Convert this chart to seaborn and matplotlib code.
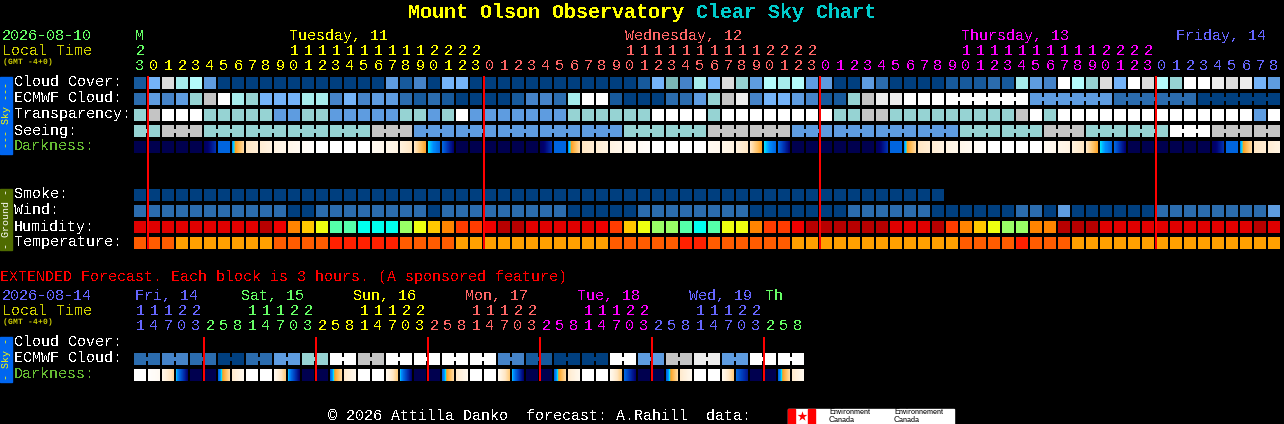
import numpy as np
import seaborn as sns
import matplotlib.pyplot as plt
from matplotlib.colors import LinearSegmentedColormap, ListedColormap
from matplotlib.patches import Rectangle

WIDTH = 1284
HEIGHT = 424
LEFT = 134
PITCH = 14
BLOCK = 12
FONT = "Liberation Mono"

# level colours, one table per kind of row
SKY_COLORS = [
    "#003F7F", "#175A9C", "#2B6CAE", "#4583C8", "#5E9CE0", "#74B3F8", "#7AB8B8",
    "#96D3D3", "#A6ECEC", "#B4FBFB", "#C4C4C4", "#DCDCDC", "#ECECEC", "#FFFFFF",
]
HUMIDITY_COLORS = [
    "#B80000", "#E00000", "#F00000", "#FF3C00", "#FF8400",
    "#FFC800", "#EEFF10", "#99FF66", "#55FFAA", "#00FFEE",
]
TEMPERATURE_COLORS = ["#FF2000", "#FF5C00", "#FFA000"]
DARK_STOPS = [
    (0.0, "#00004F"), (0.1, "#000070"), (0.2, "#0030B0"), (0.3, "#0066E0"),
    (0.36, "#0090FF"), (0.4, "#00E0FF"), (0.44, "#FFA020"), (0.55, "#FFC060"),
    (0.66, "#FFD9A0"), (0.72, "#FFE6C4"), (0.85, "#FFF4E4"), (1.0, "#FFFFFF"),
]

GREEN = "#66FF66"
YELLOW = "#FFFF00"
SALMON = "#FF6666"
MAGENTA = "#FF00FF"
BLUE = "#6666FF"
OLIVE_TEXT = "#CCCC00"

cloud_cover = [
    1, 5, 11, 8, 9, 4, 0, 0, 0, 0,
    0, 0, 0, 0, 0, 0, 0, 0, 4, 1,
    3, 0, 5, 5, 0, 0, 0, 0, 0, 0,
    0, 0, 0, 0, 0, 0, 1, 5, 6, 3,
    8, 5, 11, 7, 4, 9, 8, 9, 4, 4,
    0, 0, 4, 2, 0, 0, 0, 0, 1, 1,
    1, 2, 1, 8, 4, 3, 13, 9, 7, 11,
    5, 13, 11, 9, 7, 13, 13, 12, 11, 12,
    5, 4,
]
ecmwf_cloud = [
    2, 4, 3, 4, 7, 10, 13, 8, 7, 5,
    5, 5, 8, 8, 3, 5, 3, 4, 4, 2,
    1, 2, 1, 0, 0, 0, 0, 1, 3, 3,
    2, 8, 13, 13, 1, 0, 0, 0, 2, 2,
    4, 7, 10, 12, 3, 5, 5, 4, 3, 1,
    1, 7, 10, 12, 12, 13, 13, 13,
    13, 4, 2, 0,
]
ecmwf_spans = [1] * 58 + [6] * 4
transparency = [
    7, 10, 13, 13, 13, 7, 7, 7, 7, 7,
    4, 4, 7, 7, 4, 4, 4, 4, 4, 7,
    7, 4, 7, 13, 4, 4, 4, 4, 4, 4,
    4, 7, 7, 7, 7, 7, 7, 13, 13, 13,
    13, 7, 13, 13, 13, 13, 13, 13, 13, 13,
    7, 7, 10, 10, 7, 7, 7, 7, 7, 7,
    7, 7, 7, 10, 13, 7, 13, 13, 13, 13,
    13, 13, 13, 13, 13, 13, 13, 13, 13, 13,
    4, 13,
]
seeing = [7, 10, 7, 7, 7, 7, 10, 4, 4, 4, 4, 4, 7, 7, 10, 10, 4, 4, 4, 4, 7, 7, 10, 7, 7, 13, 10, 10]
seeing_spans = [2] + [3] * 26 + [2]
darkness_start = [
    0, 0, 0, 0, 0, .05, .3, .36, .72, .78,
    .84, .88, .94, 1, 1, 1, 1, .92, .88, .82,
    .72, .40, .3, 0, 0, 0, 0, 0, 0, .05,
    .3, .36, .72, .78, .84, .88, .94, 1, 1, 1,
    1, .92, .88, .82, .72, .40, .3, 0, 0, 0,
    0, 0, 0, .05, .3, .36, .72, .78, .84, .88,
    .94, 1, 1, 1, 1, .92, .88, .82, .72, .40,
    .3, 0, 0, 0, 0, 0, 0, .05, .3, .36,
    .72, .78,
]
darkness_end = [
    0, 0, 0, 0, 0, .2, .3, .66, .78, .84,
    .88, .92, .97, 1, 1, 1, 1, .9, .84, .72,
    .46, .3, .1, 0, 0, 0, 0, 0, 0, .2,
    .3, .66, .78, .84, .88, .92, .97, 1, 1, 1,
    1, .9, .84, .72, .46, .3, .1, 0, 0, 0,
    0, 0, 0, .2, .3, .66, .78, .84, .88, .92,
    .97, 1, 1, 1, 1, .9, .84, .72, .46, .3,
    .1, 0, 0, 0, 0, 0, 0, .2, .3, .66,
    .78, .84,
]
smoke = [0] * 58
wind = [
    2, 2, 2, 2, 2, 2, 2, 2, 2, 2,
    2, 0, 0, 2, 2, 2, 2, 2, 2, 2,
    2, 0, 2, 2, 2, 2, 2, 2, 2, 2,
    2, 0, 0, 0, 0, 0, 2, 2, 2, 2,
    2, 2, 2, 2, 0, 0, 0, 0, 0, 0,
    0, 2, 2, 2, 2, 2, 2, 0, 0, 0,
    0, 0, 0, 2, 2, 0, 4, 0, 0, 0,
    0, 0, 0, 2, 2, 2, 2, 2, 2, 2,
    2, 4,
]
humidity = [
    1, 1, 1, 1, 1, 1, 1, 1, 1, 0,
    2, 4, 5, 6, 8, 8, 9, 9, 9, 7,
    6, 5, 4, 3, 3, 2, 0, 0, 1, 1,
    1, 1, 1, 2, 3, 5, 6, 7, 7, 8,
    9, 8, 6, 6, 4, 3, 3, 2, 0, 0,
    0, 0, 0, 0, 1, 1, 1, 0, 3, 4,
    5, 6, 7, 7, 4, 4, 0, 0, 0, 1,
    1, 1, 1, 1, 1, 1, 1, 1, 1, 1,
    0, 1,
]
temperature = [
    1, 1, 1, 2, 2, 2, 2, 2, 2, 2,
    1, 1, 1, 1, 0, 0, 0, 0, 0, 1,
    1, 1, 1, 2, 2, 2, 2, 2, 2, 2,
    2, 2, 2, 2, 1, 1, 1, 1, 1, 0,
    0, 1, 1, 1, 1, 1, 1, 2, 2, 2,
    2, 2, 2, 2, 2, 2, 2, 2, 2, 1,
    1, 1, 1, 0, 1, 1, 1, 2, 2, 2,
    2, 2, 2, 2, 2, 2, 2, 2, 2, 2,
    2, 2,
]

ext_ecmwf = [2, 3, 2, 0, 2, 4, 7, 13, 10, 13, 13, 13, 13, 3, 1, 0, 0, 13, 4, 10, 12, 4, 13, 13]
ext_spans = [2] * 24
ext_dark_start = [
    1, .98, .88, .38, 0, 0, .3, .76, 1, 1,
    .92, .38, 0, 0, .3, .76, 1, 1, .9, .38,
    0, 0, .3, .76, 1, 1, .9, .38, 0, 0,
    .3, .76, 1, 1, .9, .3, 0, 0, .3, .76,
    1, 1, .9, .3, 0, 0, .3, .76,
]
ext_dark_end = [
    1, .93, .66, .1, 0, 0, .66, .9, 1, 1,
    .6, .1, 0, 0, .66, .9, 1, 1, .6, .1,
    0, 0, .66, .9, 1, 1, .6, .1, 0, 0,
    .66, .9, 1, 1, .6, .1, 0, 0, .66, .9,
    1, 1, .6, .15, 0, 0, .66, .9,
]

hours = [23] + list(range(24)) * 3 + list(range(9))
hour_colors = [GREEN] + [YELLOW] * 24 + [SALMON] * 24 + [MAGENTA] * 24 + [BLUE] * 9
ext_hours = [11, 14, 17, 20, 23] + [2, 5, 8, 11, 14, 17, 20, 23] * 5 + [2, 5, 8]
ext_colors = [BLUE] * 5 + [GREEN] * 8 + [YELLOW] * 8 + [SALMON] * 8 + [MAGENTA] * 8 + [BLUE] * 8 + [GREEN] * 3

day_names = ["M", "Tuesday, 11", "Wednesday, 12", "Thursday, 13", "Friday, 14"]
day_x = [135, 289, 625, 961, 1176]
day_colors = [GREEN, YELLOW, SALMON, MAGENTA, BLUE]
ext_day_names = ["Fri, 14", "Sat, 15", "Sun, 16", "Mon, 17", "Tue, 18", "Wed, 19", "Th"]
ext_day_x = [135, 241, 353, 465, 577, 689, 765]
ext_day_colors = [BLUE, GREEN, YELLOW, SALMON, MAGENTA, BLUE, GREEN]

row_names = ["Cloud Cover:", "ECMWF Cloud:", "Transparency:", "Seeing:", "Darkness:"]
ground_names = ["Smoke:", "Wind:", "Humidity:", "Temperature:"]
ext_names = ["Cloud Cover:", "ECMWF Cloud:", "Darkness:"]

HUMIDITY_BASE = len(SKY_COLORS)
TEMPERATURE_BASE = HUMIDITY_BASE + len(HUMIDITY_COLORS)
DARK_BASE = TEMPERATURE_BASE + len(TEMPERATURE_COLORS)
dark_map = LinearSegmentedColormap.from_list("dark", DARK_STOPS, N=256)
all_colors = SKY_COLORS + HUMIDITY_COLORS + TEMPERATURE_COLORS + [dark_map(i) for i in range(256)]

canvas = np.full((HEIGHT, WIDTH), np.nan)


def draw_row(y, values, base=0, spans=None):
    spans = spans or [1] * len(values)
    col = 0
    for value, span in zip(values, spans):
        for i in range(span):
            x = LEFT + col * PITCH
            canvas[y : y + BLOCK, x : x + BLOCK] = value + base
            # blocks of one forecast step are joined by a narrow neck
            if i < span - 1:
                canvas[y + 4 : y + 8, x + BLOCK : x + PITCH] = value + base
            col += 1


def draw_dark_row(y, starts, ends):
    for col, (start, end) in enumerate(zip(starts, ends)):
        x = LEFT + col * PITCH
        shade = np.round(np.linspace(start, end, BLOCK) * 255)
        canvas[y : y + BLOCK, x : x + BLOCK] = DARK_BASE + shade


draw_row(77, cloud_cover)
draw_row(93, ecmwf_cloud, spans=ecmwf_spans)
draw_row(109, transparency)
draw_row(125, seeing, spans=seeing_spans)
draw_dark_row(141, darkness_start, darkness_end)
draw_row(189, smoke)
draw_row(205, wind)
draw_row(221, humidity, base=HUMIDITY_BASE)
draw_row(237, temperature, base=TEMPERATURE_BASE)
draw_row(353, ext_ecmwf, spans=ext_spans)
draw_dark_row(369, ext_dark_start, ext_dark_end)

sns.set_theme(style="white")
plt.rcParams["font.family"] = [FONT, "DejaVu Sans"]
plt.rcParams["text.antialiased"] = False
plt.rcParams["text.hinting"] = "native"
plt.rcParams["text.hinting_factor"] = 1

fig = plt.figure(figsize=(WIDTH / 100, HEIGHT / 100), dpi=100, facecolor="black")
ax = fig.add_axes([0, 0, 1, 1])
sns.heatmap(
    canvas,
    ax=ax,
    cmap=ListedColormap(all_colors),
    vmin=-0.5,
    vmax=len(all_colors) - 0.5,
    cbar=False,
    xticklabels=False,
    yticklabels=False,
)
ax.set_facecolor("black")


def label(x, y, s, color="white", size=10.8, **kw):
    ax.text(x, y, s, color=color, fontsize=size, va="center", **kw)


def col_center(col):
    return LEFT + col * PITCH + BLOCK / 2


# midnight markers
ax.vlines([LEFT + c * PITCH for c in (1, 25, 49, 73)], 76, 249, color="#FF0000", lw=1.44, zorder=5)
ax.vlines([LEFT + c * PITCH for c in (5, 13, 21, 29, 37, 45)], 337, 381, color="#FF0000", lw=1.44, zorder=5)

# title
label(408, 12, "Mount Olson Observatory", color=YELLOW, size=14.4, fontweight="bold")
label(696, 12, "Clear Sky Chart", color="#00CCCC", size=14.4, fontweight="bold")

# main chart header
label(2, 36, "2026-08-10", color=GREEN)
label(2, 51, "Local Time", color=OLIVE_TEXT)
label(3, 62, "(GMT -4+0)", color=OLIVE_TEXT, size=5.6, fontweight="bold", antialiased=True)
for name, x, color in zip(day_names, day_x, day_colors):
    label(x, 36, name, color=color)
for col, (hour, color) in enumerate(zip(hours, hour_colors)):
    label(col_center(col), 66, str(hour % 10), color=color, ha="center")
    if hour >= 10:
        label(col_center(col), 51, str(hour // 10), color=color, ha="center")

for i, name in enumerate(row_names):
    label(14, 82.5 + 16 * i, name, color="#66BB33" if name == "Darkness:" else "white")
for i, name in enumerate(ground_names):
    label(14, 194.5 + 16 * i, name)

# side tabs
ax.add_patch(Rectangle((0, 77), 12, 77, color="#0066F0"))
ax.add_patch(Rectangle((0, 189), 12, 61, color="#4F6B00"))
ax.add_patch(Rectangle((0, 337), 12, 45, color="#0066F0"))
label(6, 115, "--- Sky ---", color=YELLOW, size=7.2, rotation=90, ha="center", antialiased=True)
label(6, 219, "- Ground -", color="white", size=7.2, rotation=90, ha="center", antialiased=True)
label(6, 359, "- Sky -", color=YELLOW, size=7.2, rotation=90, ha="center", antialiased=True)

# extended forecast
label(0, 277, "EXTENDED Forecast. Each block is 3 hours. (A sponsored feature)", color="#FF0000")
label(2, 296, "2026-08-14", color=BLUE)
label(2, 311, "Local Time", color=OLIVE_TEXT)
label(3, 322, "(GMT -4+0)", color=OLIVE_TEXT, size=5.6, fontweight="bold", antialiased=True)
for name, x, color in zip(ext_day_names, ext_day_x, ext_day_colors):
    label(x, 296, name, color=color)
for col, (hour, color) in enumerate(zip(ext_hours, ext_colors)):
    label(col_center(col), 326, str(hour % 10), color=color, ha="center")
    if hour >= 10:
        label(col_center(col), 311, str(hour // 10), color=color, ha="center")
for i, name in enumerate(ext_names):
    label(14, 342.5 + 16 * i, name, color="#66BB33" if name == "Darkness:" else "white")

# footer and logo
label(328, 416, "\u00a9 2026 Attilla Danko  forecast: A.Rahill  data:")
ax.add_patch(Rectangle((788, 409), 166, 15, color="white"))
ax.add_patch(Rectangle((788, 409), 7, 15, color="#FF0000"))
ax.add_patch(Rectangle((808, 409), 7, 15, color="#FF0000"))
ax.scatter([801.5], [416], marker="*", s=55, color="#FF0000", linewidths=0, zorder=4)
for x, word in ((829, "Environment"), (894, "Environnement")):
    label(x, 412, word, color="black", size=5.8, family="Liberation Sans", zorder=4, antialiased=True)
    label(x, 420, "Canada", color="black", size=5.8, family="Liberation Sans", zorder=4, antialiased=True)

fig.savefig("out.png", dpi=100, facecolor="black")
